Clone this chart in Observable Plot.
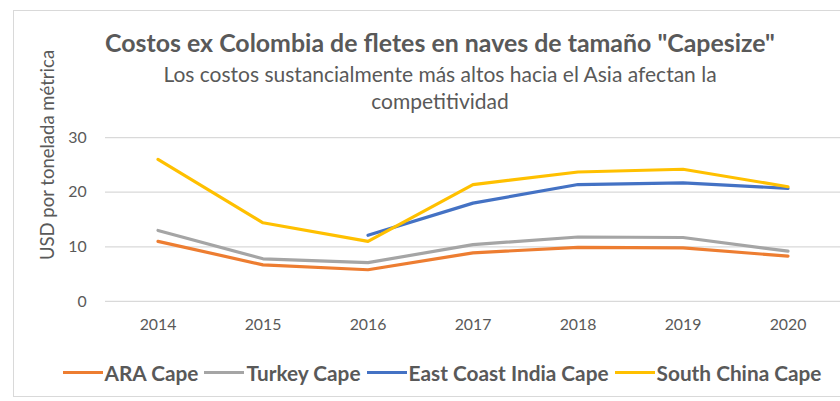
<!DOCTYPE html>
<html>
<head>
<meta charset="utf-8">
<script src="https://cdn.jsdelivr.net/npm/d3@7"></script>
<script src="https://cdn.jsdelivr.net/npm/@observablehq/plot@0.6"></script>
<style>
  html, body { margin: 0; padding: 0; background: #fff; }
  #wrap { position: relative; width: 840px; height: 401px; overflow: hidden; background: #fff; font-family: Lato, "Open Sans", sans-serif; color: #595959; }
  #frame { position: absolute; left: 13px; top: 10px; width: 840px; height: 387px; border: 1px solid #d9d9d9; box-sizing: border-box; }
  #title { position: absolute; left: 0; top: 27px; width: 880px; height: 30px; line-height: 30px; text-align: center; font-weight: 700; font-size: 24.9px; color: #595959; white-space: nowrap; }
  #subtitle { position: absolute; left: 0; top: 60px; width: 880px; line-height: 27px; text-align: center; font-size: 21px; color: #595959; white-space: nowrap; }
  #ylabel { position: absolute; left: 47px; top: 155px; transform: translate(-50%, -50%) rotate(-90deg); font-size: 18.5px; color: #595959; white-space: nowrap; }
  #chart { position: absolute; left: 0; top: 115px; }
  #legend { position: absolute; left: 0; top: 358px; width: 884px; height: 28px; display: flex; justify-content: center; align-items: center; font-weight: 700; font-size: 20.8px; color: #595959; white-space: nowrap; }
  .item { display: flex; align-items: center; margin: 0 3px; }
  .sw { width: 40px; height: 3px; margin-right: 2px; }
</style>
</head>
<body>
<div id="wrap">
  <div id="frame"></div>
  <div id="title"></div>
  <div id="subtitle"></div>
  <div id="ylabel"></div>
  <div id="chart"></div>
  <div id="legend"></div>
</div>
<script>
// ---- Data ----
const years = [2014, 2015, 2016, 2017, 2018, 2019, 2020];
const seriesNames = ["ARA Cape", "Turkey Cape", "East Coast India Cape", "South China Cape"];
const seriesColors = ["#ED7D31", "#A5A5A5", "#4472C4", "#FFC000"];
const araCape = [11.0, 6.7, 5.8, 8.9, 9.9, 9.8, 8.3];
const turkeyCape = [13.0, 7.8, 7.1, 10.4, 11.8, 11.7, 9.2];
const eastCoastIndiaCape = [null, null, 12.1, 18.0, 21.4, 21.7, 20.7];
const southChinaCape = [26.0, 14.4, 11.0, 21.4, 23.7, 24.2, 21.0];
const yTicks = [0, 10, 20, 30];
const titleText = 'Costos ex Colombia de fletes en naves de tamaño "Capesize"';
const subtitleLines = ["Los costos sustancialmente más altos hacia el Asia afectan la", "competitividad"];
const yLabelText = "USD por tonelada métrica";

// ---- Build long table ----
const seriesValues = [araCape, turkeyCape, eastCoastIndiaCape, southChinaCape];
const data = [];
seriesNames.forEach((name, i) => {
  years.forEach((yr, j) => {
    const v = seriesValues[i][j];
    if (v != null) data.push({ series: name, year: String(yr), value: v });
  });
});

// ---- Texts ----
document.getElementById("title").textContent = titleText;
const sub = document.getElementById("subtitle");
subtitleLines.forEach((l, i) => { if (i) sub.appendChild(document.createElement("br")); sub.appendChild(document.createTextNode(l)); });
document.getElementById("ylabel").textContent = yLabelText;

// ---- Chart ----
const chart = Plot.plot({
  width: 848,
  height: 230,
  marginLeft: 106,
  marginRight: 0,
  marginTop: 22.3,
  marginBottom: 42.3,
  style: { fontFamily: "Lato, 'Open Sans', sans-serif", color: "#595959", background: "transparent" },
  x: { type: "point", domain: years.map(String), padding: 0.5 },
  y: { domain: [0, 30] },
  color: { domain: seriesNames, range: seriesColors },
  marks: [
    Plot.ruleY(yTicks, { stroke: "#d9d9d9", strokeWidth: 1.3 }),
    Plot.axisY({ ticks: yTicks, tickSize: 0, tickPadding: 19, fontSize: 16, label: null }),
    Plot.axisX({ tickSize: 0, tickPadding: 17, fontSize: 16, label: null }),
    Plot.line(data, { x: "year", y: "value", z: "series", stroke: "series", strokeWidth: 3.2, strokeLinejoin: "round", strokeLinecap: "round" })
  ]
});
document.getElementById("chart").appendChild(chart);

// ---- Legend ----
const legend = document.getElementById("legend");
seriesNames.forEach((name, i) => {
  const it = document.createElement("div");
  it.className = "item";
  const sw = document.createElement("span");
  sw.className = "sw";
  sw.style.background = seriesColors[i];
  const tx = document.createElement("span");
  tx.textContent = name;
  it.appendChild(sw); it.appendChild(tx);
  legend.appendChild(it);
});
</script>
</body>
</html>
